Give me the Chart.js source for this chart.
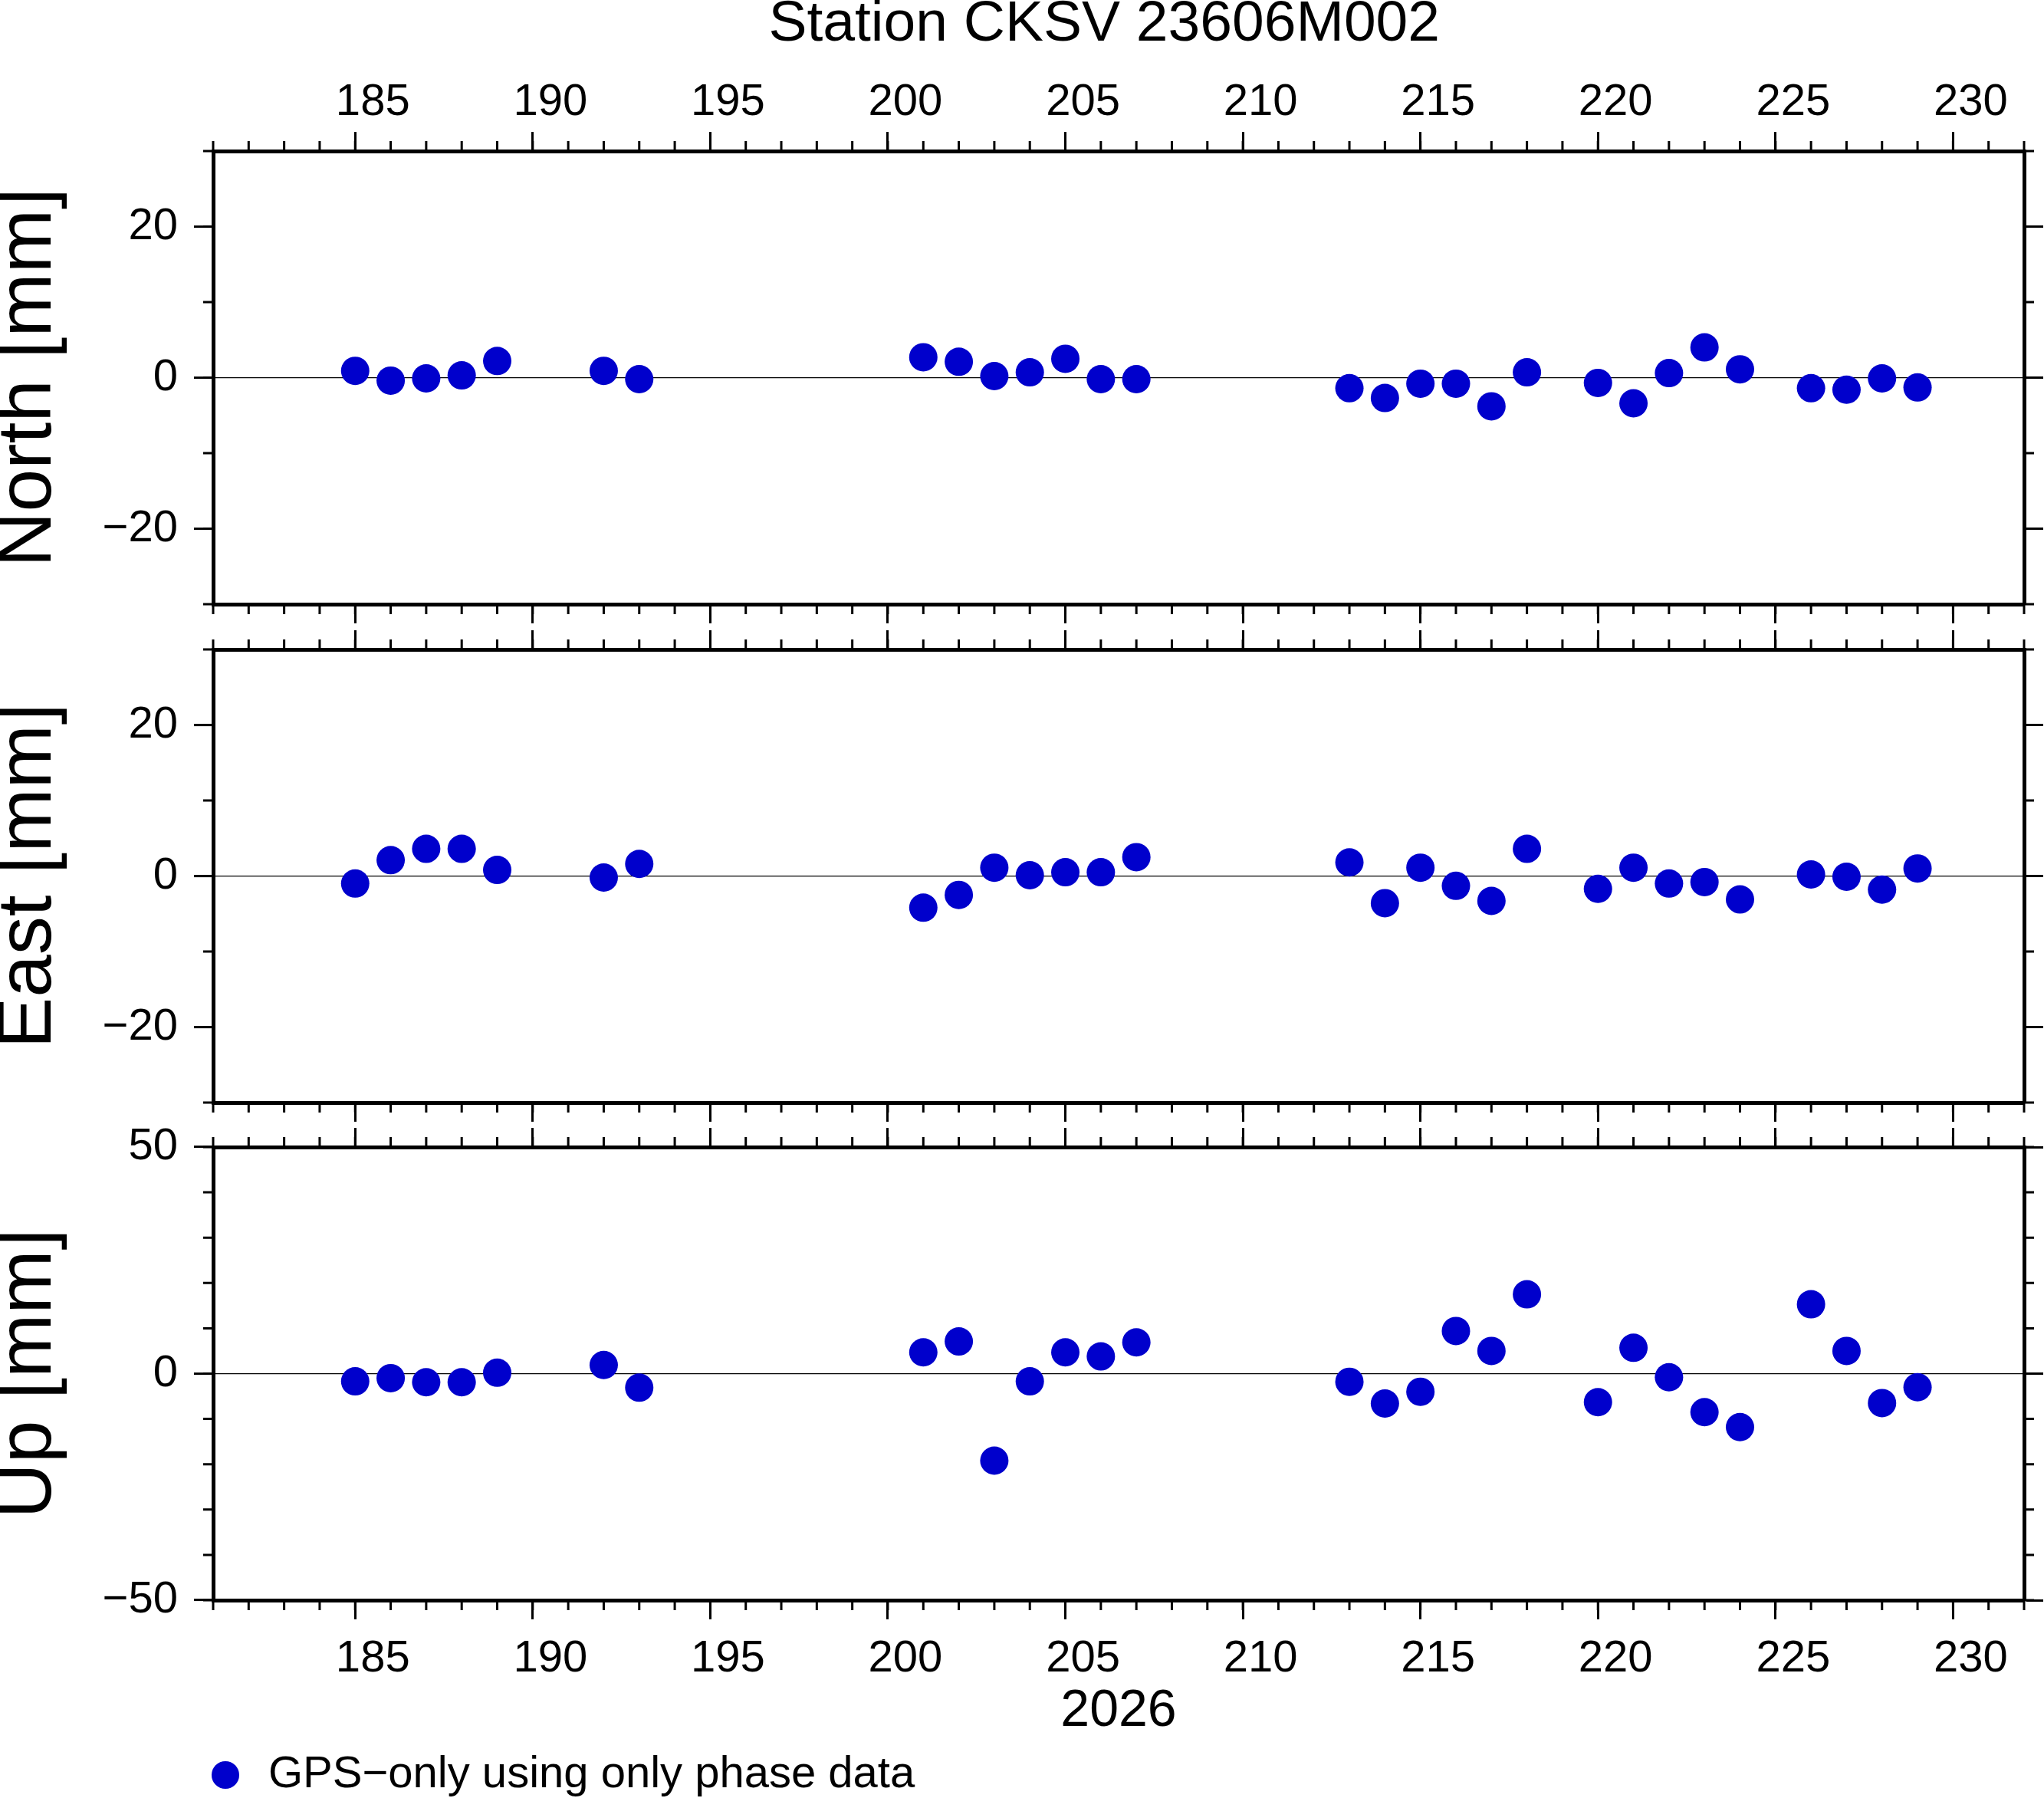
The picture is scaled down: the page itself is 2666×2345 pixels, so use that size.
<!DOCTYPE html>
<html>
<head>
<meta charset="utf-8">
<script src="https://cdn.jsdelivr.net/npm/chart.js@4.4.1/dist/chart.umd.min.js"></script>
<style>
html, body { margin: 0; padding: 0; background: #fff; overflow: hidden; }
#wrap { position: relative; width: 2666px; height: 2345px; overflow: hidden; background: #fff; }
canvas { position: absolute; left: 0; top: 0; }
</style>
</head>
<body>
<div id="wrap">
  <canvas id="north_chart" width="2666" height="2345"></canvas>
  <canvas id="east_chart" width="2666" height="2400"></canvas>
  <canvas id="up_chart" width="2666" height="2345"></canvas>
</div>
<script>
// day of year 2026
var days = [185, 186, 187, 188, 189, 192, 193, 201, 202, 203, 204, 205, 206, 207,
            213, 214, 215, 216, 217, 218, 220, 221, 222, 223, 224, 226, 227, 228, 229];

// residuals in mm
var northValues = [0.9, -0.4, -0.1, 0.3, 2.2, 0.9, -0.2, 2.7, 2.1, 0.2, 0.7, 2.5, -0.2, -0.2,
                   -1.4, -2.7, -0.8, -0.8, -3.8, 0.7, -0.7, -3.4, 0.6, 4.0, 1.1, -1.4, -1.6, -0.1, -1.3];
var eastValues = [-1.0, 2.1, 3.6, 3.6, 0.8, -0.2, 1.6, -4.2, -2.5, 1.1, 0.1, 0.5, 0.5, 2.5,
                  1.8, -3.6, 1.1, -1.3, -3.3, 3.6, -1.7, 1.1, -1.0, -0.8, -3.1, 0.2, -0.1, -1.8, 1.0];
var upValues = [-1.7, -1.0, -1.9, -1.9, 0.2, 1.9, -3.1, 4.7, 7.1, -19.2, -1.7, 4.7, 3.8, 6.9,
                -1.8, -6.6, -4.0, 9.4, 5.0, 17.5, -6.3, 5.7, -0.8, -8.5, -11.8, 15.3, 5.0, -6.5, -3.0];

var dayTicks = [185, 190, 195, 200, 205, 210, 215, 220, 225, 230];
var horizTicks = [-20, 0, 20];
var upTicks = [-50, 0, 50];

var titleText = 'Station CKSV 23606M002\u2002';
var yearLabel = '2026';
var seriesLabel = 'GPS\u2212only using only phase data';

Chart.defaults.font.family = "'Liberation Sans', Arial, Helvetica, sans-serif";
Chart.defaults.color = '#000';

var DOT_COLOR = '#0000cc';
var FONT_TICK = 58;

function formatTick(v) {
    return v < 0 ? '\u2212' + Math.abs(v) : String(v);
}

function fixedTicks(list) {
    return function (scale) {
        scale.ticks = list.map(function (v) { return { value: v }; });
    };
}

// GMT style minor ticks, every day / every 10 mm
var minorTicks = {
    id: 'minorTicks',
    afterDraw: function (chart, args, opts) {
        var ctx = chart.ctx;
        var area = chart.chartArea;
        var len = 13;
        ctx.save();
        ctx.strokeStyle = '#000';
        ctx.lineWidth = 3;
        ctx.beginPath();
        Object.keys(chart.scales).forEach(function (id) {
            var scale = chart.scales[id];
            var step = opts.steps[id];
            if (!step) {
                return;
            }
            for (var v = scale.min; v <= scale.max + 1e-9; v += step) {
                var p = scale.getPixelForValue(v);
                if (scale.position === 'top') {
                    ctx.moveTo(p, area.top);
                    ctx.lineTo(p, area.top - len);
                } else if (scale.position === 'bottom') {
                    ctx.moveTo(p, area.bottom);
                    ctx.lineTo(p, area.bottom + len);
                } else if (scale.position === 'left') {
                    ctx.moveTo(area.left, p);
                    ctx.lineTo(area.left - len, p);
                } else {
                    ctx.moveTo(area.right, p);
                    ctx.lineTo(area.right + len, p);
                }
            }
        });
        ctx.stroke();
        ctx.restore();
    }
};

function drawPanel(id, values, yMin, yMax, yTicks, yTitle, cfg) {
    var element = document.getElementById(id);
    if (!element) {
        return;
    }

    var frame = { display: true, width: 5, color: '#000' };
    var tickGrid = { drawOnChartArea: false, tickLength: 25, tickWidth: 3, tickColor: '#000' };

    var config = {
        type: 'scatter',
        data: {
            datasets: [{
                label: seriesLabel,
                data: days.map(function (d, i) { return { x: d, y: values[i] }; }),
                backgroundColor: DOT_COLOR,
                borderColor: DOT_COLOR,
                borderWidth: 0,
                pointRadius: 18.5,
                pointHoverRadius: 18.5,
                pointStyle: 'circle'
            }]
        },
        options: {
            responsive: false,
            animation: false,
            devicePixelRatio: 1,
            events: [],
            layout: {
                padding: { left: 0, right: 0, top: 0, bottom: cfg.padBottom }
            },
            scales: {
                x: {
                    type: 'linear',
                    position: 'bottom',
                    min: 181,
                    max: 232,
                    afterBuildTicks: fixedTicks(dayTicks),
                    afterFit: function (scale) { scale.height = cfg.bottomHeight; },
                    ticks: {
                        display: cfg.bottomLabels,
                        font: { size: FONT_TICK },
                        padding: 17,
                        labelOffset: 23,
                        maxRotation: 0,
                        autoSkip: false,
                        callback: formatTick
                    },
                    grid: tickGrid,
                    border: frame,
                    title: {
                        display: cfg.bottomLabels,
                        text: yearLabel,
                        font: { size: 68, lineHeight: 1 },
                        padding: { top: 0, bottom: 79 }
                    }
                },
                xt: {
                    type: 'linear',
                    position: 'top',
                    min: 181,
                    max: 232,
                    afterBuildTicks: fixedTicks(dayTicks),
                    afterFit: function (scale) { scale.height = cfg.topHeight; },
                    ticks: {
                        display: cfg.topLabels,
                        font: { size: FONT_TICK },
                        padding: 3,
                        labelOffset: 23,
                        maxRotation: 0,
                        autoSkip: false,
                        callback: formatTick
                    },
                    grid: tickGrid,
                    border: frame
                },
                y: {
                    type: 'linear',
                    position: 'left',
                    min: yMin,
                    max: yMax,
                    afterBuildTicks: fixedTicks(yTicks),
                    afterFit: function (scale) { scale.width = 278; },
                    ticks: {
                        font: { size: FONT_TICK },
                        padding: 21,
                        callback: formatTick
                    },
                    grid: {
                        drawOnChartArea: true,
                        color: function (c) {
                            return c.tick && c.tick.value === 0 ? '#000' : 'rgba(0,0,0,0)';
                        },
                        lineWidth: 1.2,
                        tickLength: 25,
                        tickWidth: 3,
                        tickColor: '#000'
                    },
                    border: frame,
                    title: {
                        display: true,
                        text: yTitle,
                        font: { size: 100, lineHeight: 0.76 },
                        padding: 0
                    }
                },
                yr: {
                    type: 'linear',
                    position: 'right',
                    min: yMin,
                    max: yMax,
                    afterBuildTicks: fixedTicks(yTicks),
                    afterFit: function (scale) { scale.width = 26; },
                    ticks: { display: false },
                    grid: tickGrid,
                    border: frame
                }
            },
            plugins: {
                // the legend sits under the whole figure, the east canvas carries it
                legend: {
                    display: cfg.legend,
                    position: 'bottom',
                    align: 'start',
                    fullSize: true,
                    labels: {
                        usePointStyle: true,
                        pointStyle: 'circle',
                        boxWidth: 54,
                        boxHeight: 25.5,
                        padding: 267,
                        color: '#000',
                        font: { size: FONT_TICK }
                    }
                },
                title: {
                    display: cfg.title,
                    text: titleText,
                    fullSize: false,
                    color: '#000',
                    font: { size: 75, weight: 'normal', lineHeight: 0.8 },
                    padding: { top: 2, bottom: 0 }
                },
                tooltip: { enabled: false },
                minorTicks: {
                    steps: { x: 1, xt: 1, y: 10, yr: 10 }
                }
            }
        },
        plugins: [minorTicks]
    };

    new Chart(element, config);
}

drawPanel('north_chart', northValues, -30, 30, horizTicks, 'North [mm]', {
    title: true, legend: false, topLabels: true, bottomLabels: false,
    topHeight: 135, bottomHeight: 1557, padBottom: 0
});
drawPanel('east_chart', eastValues, -30, 30, horizTicks, 'East [mm]', {
    title: false, legend: true, topLabels: false, bottomLabels: false,
    topHeight: 847, bottomHeight: 581, padBottom: 46
});
drawPanel('up_chart', upValues, -50, 50, upTicks, 'Up [mm]', {
    title: false, legend: false, topLabels: false, bottomLabels: true,
    topHeight: 1496, bottomHeight: 258, padBottom: 0
});
</script>
</body>
</html>
